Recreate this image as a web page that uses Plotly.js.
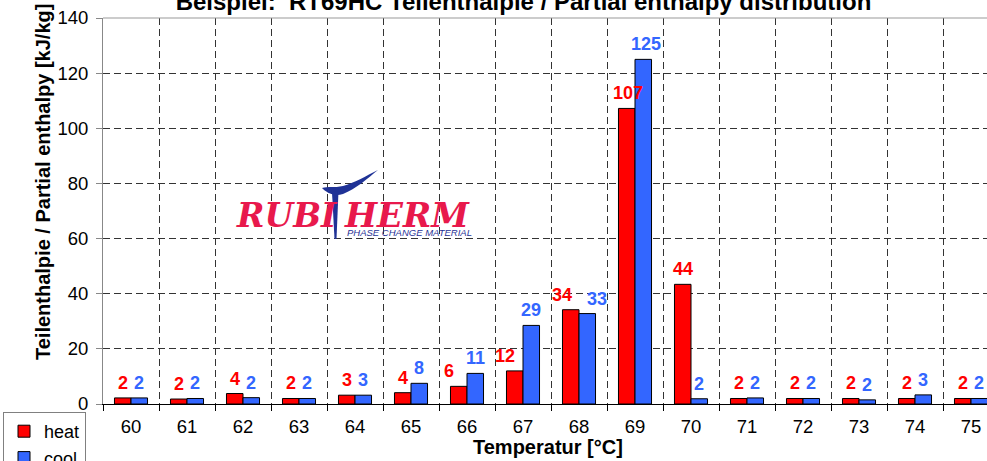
<!DOCTYPE html>
<html>
<head>
<meta charset="utf-8">
<script src="https://cdn.plot.ly/plotly-3.0.1.min.js"></script>
<style>
html,body{margin:0;padding:0;overflow:hidden;background:#fff;width:987px;height:461px;}
#chart{position:absolute;left:0;top:-20px;width:1010px;height:500px;}
</style>
</head>
<body>
<div id="chart"></div>
<script>
// ---- data ----
const temperatures = ['60','61','62','63','64','65','66','67','68','69','70','71','72','73','74','75'];
const heatValues = [2.2, 1.8, 3.8, 2.0, 3.2, 4.1, 6.4, 12.0, 34.2, 107.2, 43.4, 2.0, 2.0, 2.0, 2.0, 2.0];
const coolValues = [2.2, 2.0, 2.3, 2.0, 3.2, 7.5, 11.1, 28.5, 32.8, 125.0, 1.9, 2.2, 2.0, 1.5, 3.3, 2.0];
const heatLabels = ['2','2','4','2','3','4','6','12','34','107','44','2','2','2','2','2'];
const coolLabels = ['2','2','2','2','3','8','11','29','33','125','2','2','2','2','3','2'];
const yTicks = [0,20,40,60,80,100,120,140];

// label placement tweaks (pixels), keyed by category index
const heatNudge = {6:-10, 7:-10, 8:-9, 9:1};
const coolNudge = {8:10, 9:3};

const FONT = 'Liberation Sans, Arial, sans-serif';
const RED = '#FF0000', BLUE = '#3366FF';

// page-pixel -> paper helpers (plot area: x 103..999, y 18..404 in page px)
const PL = 103, PW = 896, PB = 404, PH = 386;
const px = x => (x - PL) / PW;
const py = y => (PB - y) / PH;
function pathFromPx(cmds){
  return cmds.map(c => {
    if (typeof c === 'string') return c;
    return px(c[0]).toFixed(5) + ',' + py(c[1]).toFixed(5);
  }).join(' ');
}

const traces = [
  {type:'bar', name:'heat', x:temperatures, y:heatValues,
   marker:{color:RED, line:{color:'#000', width:1}}, hoverinfo:'x+y'},
  {type:'bar', name:'cool', x:temperatures, y:coolValues,
   marker:{color:BLUE, line:{color:'#000', width:1}}, hoverinfo:'x+y'}
];

const annotations = [];
temperatures.forEach((t,i) => {
  annotations.push({x:i, y:heatValues[i], xref:'x', yref:'y', text:heatLabels[i], showarrow:false,
    xshift:-8.25 + (heatNudge[i]||0), yshift:3, yanchor:'bottom', font:{family:FONT, size:18, color:RED, weight:'bold'}});
  annotations.push({x:i, y:coolValues[i], xref:'x', yref:'y', text:coolLabels[i], showarrow:false,
    xshift:8.25 + (coolNudge[i]||0), yshift:3, yanchor:'bottom', font:{family:FONT, size:18, color:BLUE, weight:'bold'}});
});
// axis titles
annotations.push({xref:'paper', yref:'paper', x:px(43), y:py(182), textangle:-90, showarrow:false,
  text:'Teilenthalpie / Partial enthalpy [kJ/kg]', xanchor:'center', yanchor:'middle',
  font:{family:FONT, size:20, color:'#000', weight:'bold'}});
annotations.push({xref:'paper', yref:'paper', x:px(548), y:py(447), showarrow:false,
  text:'Temperatur [°C]', xanchor:'center', yanchor:'middle',
  font:{family:FONT, size:20, color:'#000', weight:'bold'}});
// logo
const LOGO_RED = '#E8194C', LOGO_BLUE = '#1F3296';
annotations.push({xref:'paper', yref:'paper', x:px(234), y:py(215), showarrow:false, text:'RUBI',
  xanchor:'left', yanchor:'middle', font:{family:'DejaVu Serif, serif', size:33, color:LOGO_RED, weight:'bold', style:'italic'}});
annotations.push({xref:'paper', yref:'paper', x:px(342), y:py(215), showarrow:false, text:'HERM',
  xanchor:'left', yanchor:'middle', font:{family:'DejaVu Serif, serif', size:34, color:LOGO_RED, weight:'bold', style:'italic'}});
annotations.push({xref:'paper', yref:'paper', x:px(345), y:py(232.5), showarrow:false, text:'PHASE CHANGE MATERIAL',
  xanchor:'left', yanchor:'middle', font:{family:FONT, size:9.5, color:LOGO_BLUE, style:'italic'}});

const shapes = [
  // top border of plot area
  {type:'line', xref:'paper', yref:'paper', x0:0, x1:1, y0:1, y1:1, line:{color:'#999', width:1}},
  // logo T swoosh
  {type:'path', xref:'paper', yref:'paper', fillcolor:LOGO_BLUE, line:{width:0},
   path: pathFromPx(['M',[322,188],'C',[326,192],[333,197],[343,194],'C',[356,189],[368,178],[378,170],
                     'C',[366,176],[354,183],[343,186],'C',[334,188],[328,186],[322,188],'Z'])},
  // logo T stem
  {type:'path', xref:'paper', yref:'paper', fillcolor:LOGO_BLUE, line:{width:0},
   path: pathFromPx(['M',[332,192],'L',[338.5,191],'L',[336.5,239],'L',[334.5,239],'Z'])}
];

const layout = {
  width:1010, height:500,
  margin:{l:103, r:11, t:38, b:76},
  paper_bgcolor:'#fff', plot_bgcolor:'#fff',
  barmode:'group', bargap:0.41, bargroupgap:0,
  showlegend:true,
  title:{text:'Beispiel:  RT69HC Teilenthalpie / Partial enthalpy distribution',
    xref:'container', yref:'container', x:523.5/1010, xanchor:'center', y:1-21.6/500, yanchor:'middle',
    font:{family:FONT, size:24, color:'#000', weight:'bold'}},
  xaxis:{type:'category', range:[-0.5, temperatures.length-0.5], autorange:false,
    tickson:'boundaries', ticks:'outside', ticklen:6, tickcolor:'#000', tickangle:0,
    ticklabelstandoff:6,
    showline:true, linecolor:'#000', linewidth:1,
    showgrid:true, gridcolor:'#333', griddash:'7px,4px', gridwidth:1,
    tickfont:{family:FONT, size:18.5, color:'#000'}, fixedrange:true},
  yaxis:{range:[0,140], autorange:false, tickvals:yTicks, ticks:'outside', ticklen:6, tickcolor:'#888',
    ticklabelstandoff:4,
    showline:true, linecolor:'#888', linewidth:1, zeroline:false,
    showgrid:true, gridcolor:'#333', griddash:'7px,4px', gridwidth:1,
    tickfont:{family:FONT, size:18.5, color:'#000'}, fixedrange:true},
  legend:{xref:'container', yref:'container', x:3/1010, xanchor:'left', y:1-432/500, yanchor:'top',
    bgcolor:'#fff', bordercolor:'#808080', borderwidth:1, itemwidth:30,
    font:{family:FONT, size:18, color:'#000'}},
  annotations:annotations,
  shapes:shapes
};

Plotly.newPlot('chart', traces, layout, {displayModeBar:false, staticPlot:true});
</script>
</body>
</html>
